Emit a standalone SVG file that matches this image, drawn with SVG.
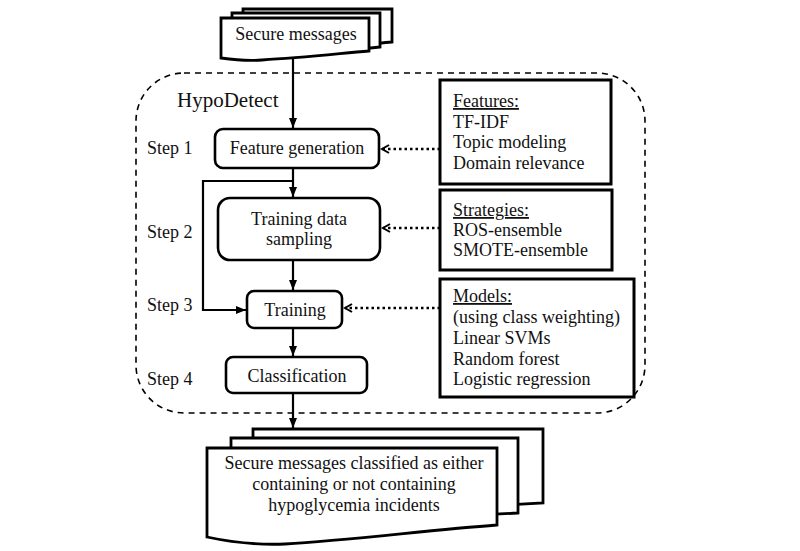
<svg xmlns="http://www.w3.org/2000/svg" width="800" height="551" viewBox="0 0 800 551">
<defs>
<style>
text{font-family:"Liberation Serif","Times New Roman",serif;font-size:18px;fill:#111;}
.doc{fill:#fff;stroke:#000;stroke-width:2.8;stroke-linejoin:miter;}
.step{fill:#fff;stroke:#000;stroke-width:2.6;}
.info{fill:#fff;stroke:#000;stroke-width:3;}
.frame{fill:none;stroke:#000;stroke-width:1.6;stroke-dasharray:6 5;}
.arrow{fill:none;stroke:#000;stroke-width:2.2;marker-end:url(#solid);}
.dot{fill:none;stroke:#000;stroke-width:2.6;stroke-dasharray:2.5 3;marker-end:url(#chev);}
.c{text-anchor:middle;}
</style>
<marker id="solid" markerUnits="userSpaceOnUse" markerWidth="12" markerHeight="10" refX="10" refY="4" orient="auto">
<path d="M0,0 L10,4 L0,8 Z" fill="#000"/>
</marker>
<marker id="chev" markerUnits="userSpaceOnUse" markerWidth="12" markerHeight="12" refX="8" refY="5" orient="auto">
<path d="M1,1 L8,5 L1,9" fill="none" stroke="#000" stroke-width="2"/>
</marker>
</defs>
<rect width="800" height="551" fill="#fff"/>
<g id="frame">
<path class="frame" d="M184,73 H597 A48,48 0 0 1 645,121 V365 A48,48 0 0 1 597,413 H184 A48,48 0 0 1 136,365 V121 A48,48 0 0 1 184,73 Z"/>
<text x="177" y="107" style="font-size:21px">HypoDetect</text>
</g>
<g id="steps-labels">
<text x="147" y="154">Step 1</text>
<text x="147" y="238">Step 2</text>
<text x="147" y="311">Step 3</text>
<text x="147" y="385">Step 4</text>
</g>
<g id="input-docs">
<path class="doc" d="M243,9 H392 V42 C360,45 330,48 300,50 L243,50 Z"/>
<path class="doc" d="M232,13 H380 V47 C350,50 320,53 290,55 L232,55 Z"/>
<path class="doc" d="M221,18 H369 V51 C335,54 300,58 262,60 C250,61 235,60 221,58 Z"/>
<text class="c" x="296" y="40">Secure messages</text>
</g>
<g id="connectors">
<path class="arrow" d="M293,58 V128"/>
<path class="arrow" d="M293,168 V197"/>
<path class="arrow" d="M293,181 H203 V310 H246"/>
<path class="arrow" d="M293,260 V290"/>
<path class="arrow" d="M293,328 V356"/>
<path class="arrow" d="M293,393 V428"/>
<path class="dot" d="M440,149 H382"/>
<path class="dot" d="M440,228 H383"/>
<path class="dot" d="M440,308 H345"/>
</g>
<g id="feature-generation">
<rect class="step" x="215" y="129" width="164" height="39" rx="8"/>
<text class="c" x="297" y="154">Feature generation</text>
</g>
<g id="sampling">
<rect class="step" x="218" y="198" width="162" height="62" rx="12"/>
<text class="c" x="299" y="225">Training data</text>
<text class="c" x="299" y="245">sampling</text>
</g>
<g id="training">
<rect class="step" x="247" y="291" width="95" height="37" rx="7"/>
<text class="c" x="295" y="316">Training</text>
</g>
<g id="classification">
<rect class="step" x="226" y="357" width="141" height="36" rx="7"/>
<text class="c" x="297" y="382">Classification</text>
</g>
<g id="features">
<rect class="info" x="440" y="80" width="171" height="104"/>
<text x="453" y="107" text-decoration="underline">Features:</text>
<text x="453" y="128">TF-IDF</text>
<text x="453" y="148">Topic modeling</text>
<text x="453" y="169">Domain relevance</text>
</g>
<g id="strategies">
<rect class="info" x="440" y="190" width="172" height="80"/>
<text x="453" y="216" text-decoration="underline">Strategies:</text>
<text x="453" y="236">ROS-ensemble</text>
<text x="453" y="256">SMOTE-ensemble</text>
</g>
<g id="models">
<rect class="info" x="440" y="279" width="194" height="118"/>
<text x="453" y="302" text-decoration="underline">Models:</text>
<text x="453" y="323">(using class weighting)</text>
<text x="453" y="344">Linear SVMs</text>
<text x="453" y="365">Random forest</text>
<text x="453" y="385">Logistic regression</text>
</g>
<g id="output-docs">
<path class="doc" d="M253,429 H543 V503 C500,505 450,508 400,511 L253,511 Z"/>
<path class="doc" d="M231,438 H518 V513 C480,515 440,518 400,521 L231,521 Z"/>
<path class="doc" d="M207,448 H497 V525 C430,530 350,540 285,544 C260,545 230,542 207,537 Z"/>
<text class="c" x="354" y="469">Secure messages classified as either</text>
<text class="c" x="354" y="490">containing or not containing</text>
<text class="c" x="354" y="511">hypoglycemia incidents</text>
</g>
</svg>
